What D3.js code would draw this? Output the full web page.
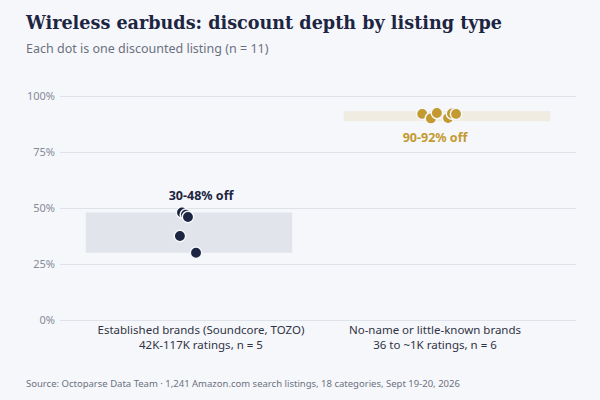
<!DOCTYPE html>
<html>
<head>
<meta charset="utf-8">
<script src="https://cdn.jsdelivr.net/npm/d3@7"></script>
<style>
  body { margin: 0; background: #f6f7fb; }
  svg { display: block; background: #f6f7fb; }
  .grid line { stroke: #dfe2e8; }
  .grid path { display: none; }
  .grid text { fill: #858b98; font-size: 11px; font-family: "Noto Sans", sans-serif; }
</style>
</head>
<body>
<svg width="600" height="400"></svg>
<script>
// categories + second line of the axis labels
const categories = ["Established brands (Soundcore, TOZO)", "No-name or little-known brands"];
const subLabels = ["42K-117K ratings, n = 5", "36 to ~1K ratings, n = 6"];
const rangeLabels = ["30-48% off", "90-92% off"];

// discount per listing (%)
const establishedValues = [48, 47, 46, 37.5, 30];
const noNameValues = [92, 90, 92.4, 90.2, 92.2, 92];

// horizontal jitter, as a share of the band width
const establishedJitter = [-0.034, -0.015, -0.005, -0.044, 0.034];
const noNameJitter = [-0.12, -0.078, -0.049, 0.005, 0.024, 0.044];

const yTicks = [0, 25, 50, 75, 100];

const colors = ["#1c2541", "#c39a2f"];
const bandFills = ["#1c2541", "#c39a2f"];

const svg = d3.select("svg");
const margin = { left: 60, right: 24, top: 96, bottom: 80 };
const width = 600 - margin.left - margin.right;
const height = 400 - margin.top - margin.bottom;

// title + subtitle
svg.append("text")
    .attr("x", 26).attr("y", 29)
    .style("font-family", "'DejaVu Serif', serif")
    .style("font-weight", "bold")
    .style("font-size", "17.6px")
    .style("fill", "#1c2541")
    .text("Wireless earbuds: discount depth by listing type");

svg.append("text")
    .attr("x", 26).attr("y", 53)
    .style("font-family", "'Noto Sans', sans-serif")
    .style("font-size", "12.5px")
    .style("fill", "#6b7180")
    .text("Each dot is one discounted listing (n = 11)");

const g = svg.append("g").attr("transform", `translate(${margin.left},${margin.top})`);

const xScale = d3.scaleBand()
    .domain(categories)
    .range([0, width])
    .paddingInner(0.2)
    .paddingOuter(0.1);

const yScale = d3.scaleLinear().domain([0, 100]).range([height, 0]);

// grid with % tick labels
g.append("g")
    .attr("class", "grid")
    .call(d3.axisLeft(yScale)
        .tickValues(yTicks)
        .tickSize(-width)
        .tickPadding(5)
        .tickFormat(d => d + "%"))
    .call(a => a.selectAll(".tick text").attr("x", -5));

const groups = [
    { values: establishedValues, jitter: establishedJitter },
    { values: noNameValues, jitter: noNameJitter }
];

groups.forEach((grp, i) => {
    const cat = categories[i];
    const x0 = xScale(cat);
    const bw = xScale.bandwidth();
    const cx = x0 + bw / 2;
    const [lo, hi] = d3.extent(grp.values);

    // range band, at least 10px tall
    let yTop = yScale(Math.round(hi));
    let yBot = yScale(Math.round(lo));
    if (yBot - yTop < 10) {
        const mid = (yTop + yBot) / 2;
        yTop = mid - 5;
        yBot = mid + 5;
    }
    g.append("rect")
        .attr("x", x0)
        .attr("y", yTop)
        .attr("width", bw)
        .attr("height", yBot - yTop)
        .attr("fill", bandFills[i])
        .attr("fill-opacity", i === 0 ? 0.085 : 0.12);

    // label: above the low band, below the high one, nudged toward the middle
    const lx = cx + (i === 0 ? 12 : -12);
    g.append("text")
        .attr("x", lx)
        .attr("y", i === 0 ? yTop - 12 : yBot + 21)
        .attr("text-anchor", "middle")
        .style("font-family", "'Noto Sans', sans-serif")
        .style("font-weight", "bold")
        .style("font-size", "12.5px")
        .style("fill", colors[i])
        .text(rangeLabels[i]);

    g.selectAll(".dot" + i)
        .data(grp.values)
        .enter()
        .append("circle")
        .attr("cx", (d, j) => cx + grp.jitter[j] * bw)
        .attr("cy", d => yScale(d))
        .attr("r", 5.7)
        .attr("fill", colors[i])
        .attr("stroke", "#f6f7fb")
        .attr("stroke-width", 1.5);

    // category labels
    const t = g.append("text")
        .attr("x", lx)
        .attr("y", height + 14)
        .attr("text-anchor", "middle")
        .style("font-family", "'Noto Sans', sans-serif")
        .style("font-size", "11.5px")
        .style("fill", "#2f3444");
    t.append("tspan").attr("x", lx).attr("dy", 0).text(cat);
    t.append("tspan").attr("x", lx).attr("dy", 14.5).text(subLabels[i]);
});

svg.append("text")
    .attr("x", 26).attr("y", 387)
    .style("font-family", "'Noto Sans', sans-serif")
    .style("font-size", "9.5px")
    .style("fill", "#6b7180")
    .text("Source: Octoparse Data Team · 1,241 Amazon.com search listings, 18 categories, Sept 19-20, 2026");
</script>
</body>
</html>
